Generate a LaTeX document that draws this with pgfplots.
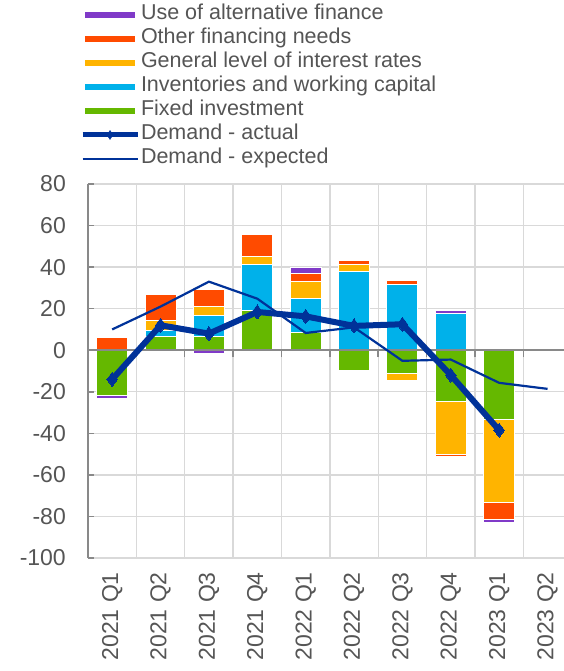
\documentclass[border=0pt]{standalone}
\usepackage{pgfplots}
\usepackage{pgfplotstable}
\pgfplotsset{compat=1.18}
\usepackage{fontspec}
\setmainfont{Liberation Sans}
\definecolor{altc}{RGB}{128,58,200}
\definecolor{othc}{RGB}{255,75,0}
\definecolor{intc}{RGB}{255,180,0}
\definecolor{invc}{RGB}{0,177,234}
\definecolor{fixc}{RGB}{101,184,0}
\definecolor{ecbblue}{RGB}{0,50,153}
\definecolor{gridc}{RGB}{217,217,217}
\definecolor{axc}{RGB}{137,137,137}
\definecolor{txtc}{RGB}{85,85,85}

\pgfplotstableread{
x fixp invp intp othp altp fixn invn intn othn altn
0 0 0 0 6 0 -22 0 0 0 -1.3
1 6.4 3 5 12.5 0 0 0 0 0 0
2 6.5 10 4.5 8.4 0 0 0 0 0 -1.8
3 19.2 22 4 10.4 0.8 0 0 0 0 0
4 8.3 16.5 8.4 3.7 2.7 0 0 0 0 0
5 0 38 3.2 2 0 -9.6 0 0 0 0
6 0 31.6 0 2 0 -11 0 -3.4 0 0
7 0 17.6 0 0 1.3 -24.8 0 -25.2 -1.3 0
8 0 0 0 0 0 -33.2 0 -40 -8.2 -1.6
9 0 0 0 0 0 0 0 0 0 0
}\bars

\pgfplotstableread{
x act
0 -14
1 12
2 8
3 18.4
4 16.3
5 11.7
6 12.5
7 -12
8 -38.5
}\actd

\pgfplotstableread{
x exp
0 10
1 21
2 33
3 24.8
4 8.3
5 11
6 -5.1
7 -4.5
8 -15.7
9 -18.6
}\expd

\pgfplotsset{base/.style={
  scale only axis, width=476pt, height=374pt,
  xmin=-0.5, xmax=9.34, ymin=-100, ymax=80,
  font=\fontsize{23}{27}\selectfont,
}}

\begin{document}
\begin{tikzpicture}
\useasboundingbox (-88pt,-113pt) rectangle (476pt,558pt);
\clip (-88pt,-113pt) rectangle (476pt,558pt);

% axis 1: grid, y axis, labels, positive bars
\begin{axis}[base, ybar stacked, bar width=31pt,
  axis x line*=bottom, axis y line*=left,
  x axis line style={draw=none},
  y axis line style={draw=axc, line width=1.5pt},
  ytick={-100,-80,...,80},
  yticklabels={-100,-80,-60,-40,-20,0,20,40,60,80},
  ymajorgrids,
  xtick={0,...,9},
  xticklabels={2021 Q1,2021 Q2,2021 Q3,2021 Q4,2022 Q1,2022 Q2,2022 Q3,2022 Q4,2023 Q1,2023 Q2},
  minor xtick={0.5,1.5,2.5,3.5,4.5,5.5,6.5,7.5,8.5}, xminorgrids,
  grid style={gridc, line width=1.3pt},
  minor grid style={gridc, line width=1.3pt},
  major x tick style={draw=none},
  minor x tick style={draw=none},
  y tick style={axc, line width=1.5pt},
  ytick align=inside, major tick length=6pt,
  yticklabel style={text=txtc, inner sep=0pt}, yticklabel shift=22pt,
  xticklabel style={text=txtc, rotate=90, anchor=east, inner sep=0pt, xshift=3pt},
  xticklabel shift=17pt,
  every axis plot/.append style={draw=white, line width=1pt},
]
\addplot[fill=fixc] table[x=x,y=fixp]{\bars};
\addplot[fill=invc] table[x=x,y=invp]{\bars};
\addplot[fill=intc] table[x=x,y=intp]{\bars};
\addplot[fill=othc] table[x=x,y=othp]{\bars};
\addplot[fill=altc] table[x=x,y=altp]{\bars};
\end{axis}

% axis 2: negative bars and zero line
\begin{axis}[base, ybar stacked, bar width=31pt,
  axis y line=none, axis x line=middle, axis on top,
  x axis line style={draw=axc, line width=1.5pt, -},
  xtick={0.5,1.5,2.5,3.5,4.5,5.5,6.5,7.5,8.5}, xticklabels={},
  x tick style={axc, line width=1.5pt},
  xtick align=outside, major tick length=7pt,
  every axis plot/.append style={draw=white, line width=1pt},
]
\addplot[fill=fixc] table[x=x,y=fixn]{\bars};
\addplot[fill=invc] table[x=x,y=invn]{\bars};
\addplot[fill=intc] table[x=x,y=intn]{\bars};
\addplot[fill=othc] table[x=x,y=othn]{\bars};
\addplot[fill=altc] table[x=x,y=altn]{\bars};
\end{axis}

% axis 3: lines and legend
\begin{axis}[base, hide axis,
  legend cell align=left,
  legend style={at={(axis description cs:-0.0168,1.4813)}, anchor=north west,
    draw=none, fill=none, inner sep=0pt, outer sep=0pt,
    row sep=2pt, column sep=1pt,
    nodes={inner sep=0pt, text height=16pt, text depth=6pt},
    font=\fontsize{21.5}{24}\selectfont, text=txtc},
]
\addlegendimage{legend image code/.code={\fill[altc] (3pt,-2.5pt) rectangle (52pt,2.5pt);}}
\addlegendentry{Use of alternative finance}
\addlegendimage{legend image code/.code={\fill[othc] (3pt,-2.5pt) rectangle (52pt,2.5pt);}}
\addlegendentry{Other financing needs}
\addlegendimage{legend image code/.code={\fill[intc] (3pt,-2.5pt) rectangle (52pt,2.5pt);}}
\addlegendentry{General level of interest rates}
\addlegendimage{legend image code/.code={\fill[invc] (3pt,-2.5pt) rectangle (52pt,2.5pt);}}
\addlegendentry{Inventories and working capital}
\addlegendimage{legend image code/.code={\fill[fixc] (3pt,-2.5pt) rectangle (52pt,2.5pt);}}
\addlegendentry{Fixed investment}
\addlegendimage{legend image code/.code={\draw[ecbblue, line width=5pt] (0pt,0pt) -- (55pt,0pt); \fill[ecbblue] (24.5pt,0pt) -- (27.5pt,4.5pt) -- (30.5pt,0pt) -- (27.5pt,-4.5pt) -- cycle;}}
\addlegendentry{Demand - actual}
\addlegendimage{legend image code/.code={\draw[ecbblue, line width=2pt] (0pt,0pt) -- (55pt,0pt);}}
\addlegendentry{Demand - expected}
\addplot[ecbblue, line width=2.2pt, forget plot] table[x=x,y=exp]{\expd};
\addplot[ecbblue, line width=6pt, mark=diamond*, mark size=7pt, mark options={solid, line width=0pt, fill=ecbblue}, forget plot] table[x=x,y=act]{\actd};
\end{axis}
\end{tikzpicture}
\end{document}
